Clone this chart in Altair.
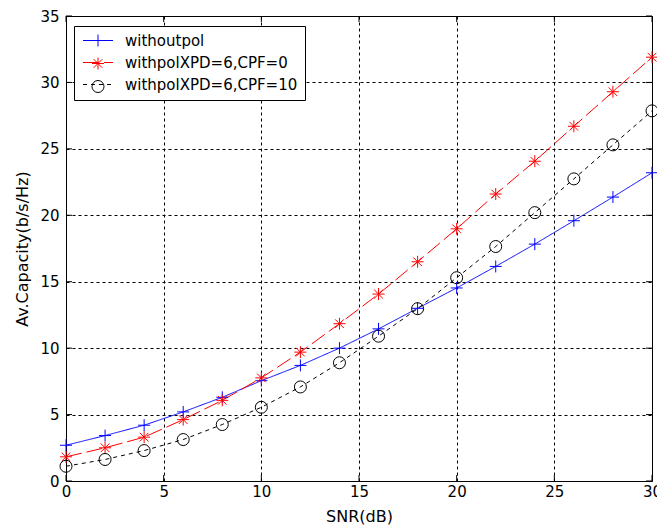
import altair as alt
import pandas as pd

# ---- data ----
snr = [0, 2, 4, 6, 8, 10, 12, 14, 16, 18, 20, 22, 24, 26, 28, 30]
without_pol = [2.69, 3.42, 4.2, 5.2, 6.3, 7.55, 8.7, 10.0, 11.45, 13.0,
               14.53, 16.15, 17.83, 19.59, 21.37, 23.2]
with_pol_cpf0 = [1.82, 2.5, 3.3, 4.62, 6.07, 7.76, 9.7, 11.84, 14.07, 16.5,
                 18.98, 21.6, 24.07, 26.7, 29.3, 31.9]
with_pol_cpf10 = [1.11, 1.62, 2.29, 3.12, 4.25, 5.55, 7.08, 8.9, 10.9, 12.97,
                  15.3, 17.65, 20.2, 22.74, 25.3, 27.86]
series_names = ["withoutpol", "withpolXPD=6,CPF=0", "withpolXPD=6,CPF=10"]
x_ticks = [0, 5, 10, 15, 20, 25, 30]
y_ticks = [0, 5, 10, 15, 20, 25, 30, 35]

# ---- styles ----
colors = ["#0000ff", "#ff0000", "#000000"]
dashes = [[1, 0], [16, 5], [4, 4]]
plus_path = "M-1,0L1,0M0,-1L0,1"
star_path = "M-1,0L1,0M0,-1L0,1M-0.72,-0.72L0.72,0.72M-0.72,0.72L0.72,-0.72"
shapes = [plus_path, star_path, "circle"]
FONT = "DejaVu Sans"
W, H = 586, 465
TICK = 6

rows = []
for name, vals in zip(series_names, [without_pol, with_pol_cpf0, with_pol_cpf10]):
    for s, v in zip(snr, vals):
        rows.append({"snr": s, "cap": v, "series": name})
df = pd.DataFrame(rows)
xt = pd.DataFrame({"t": x_ticks})
yt = pd.DataFrame({"t": y_ticks})

xscale = alt.Scale(domain=[0, 30], nice=False, zero=False)
yscale = alt.Scale(domain=[0, 35], nice=False, zero=False)

xaxis = alt.Axis(values=x_ticks, title="SNR(dB)", grid=True, ticks=False, tickSize=0,
                 labelFlush=False, labelOverlap=False, labelBound=False,
                 labelPadding=3, titlePadding=9)
yaxis = alt.Axis(values=y_ticks, title="Av.Capacity(b/s/Hz)", grid=True, ticks=False,
                 tickSize=0, labelFlush=False, labelOverlap=False, labelBound=False,
                 labelPadding=7, titlePadding=9)

leg_lines = alt.Legend(orient="none", legendX=8, legendY=10, title=None,
                       padding=7, rowPadding=6, symbolType="M-3,0L3,0",
                       symbolSize=100, symbolStrokeWidth=1, symbolOffset=9.5,
                       labelOffset=19.5, labelLimit=400, labelFont=FONT,
                       labelFontSize=15, labelColor="black", fillColor="white",
                       strokeColor="black", cornerRadius=0,
                       labelExpr="datum.label + '\u00a0\u00a0\u00a0'")
leg_marks = alt.Legend(orient="none", legendX=17.5, legendY=10, title=None,
                       padding=7, rowPadding=6, symbolSize=144,
                       symbolStrokeWidth=1, symbolOffset=0,
                       labelFont=FONT, labelFontSize=15, labelExpr="''")

lines = alt.Chart(df).mark_line(strokeWidth=1).encode(
    x=alt.X("snr:Q", scale=xscale, axis=xaxis),
    y=alt.Y("cap:Q", scale=yscale, axis=yaxis),
    color=alt.Color("series:N", scale=alt.Scale(domain=series_names, range=colors),
                    legend=leg_lines),
    strokeDash=alt.StrokeDash("series:N",
                              scale=alt.Scale(domain=series_names, range=dashes),
                              legend=leg_lines),
)

points = alt.Chart(df).mark_point(filled=False, size=144, strokeWidth=1, opacity=1).encode(
    x=alt.X("snr:Q", scale=xscale, axis=xaxis),
    y=alt.Y("cap:Q", scale=yscale, axis=yaxis),
    color=alt.Color("series:N", scale=alt.Scale(domain=series_names, range=colors),
                    legend=leg_marks),
    shape=alt.Shape("series:N", scale=alt.Scale(domain=series_names, range=shapes),
                    legend=leg_marks),
)

tick_bottom = alt.Chart(xt).mark_rule(color="black", strokeWidth=1).encode(
    x=alt.X("t:Q", scale=xscale, axis=xaxis), y=alt.value(H), y2=alt.value(H - TICK))
tick_top = alt.Chart(xt).mark_rule(color="black", strokeWidth=1).encode(
    x=alt.X("t:Q", scale=xscale, axis=xaxis), y=alt.value(0), y2=alt.value(TICK))
tick_left = alt.Chart(yt).mark_rule(color="black", strokeWidth=1).encode(
    y=alt.Y("t:Q", scale=yscale, axis=yaxis), x=alt.value(0), x2=alt.value(TICK))
tick_right = alt.Chart(yt).mark_rule(color="black", strokeWidth=1).encode(
    y=alt.Y("t:Q", scale=yscale, axis=yaxis), x=alt.value(W), x2=alt.value(W - TICK))

chart = alt.layer(
    lines, points, tick_bottom, tick_top, tick_left, tick_right
).resolve_scale(
    color="independent", strokeDash="independent", shape="independent"
).properties(
    width=W, height=H,
    autosize=alt.AutoSizeParams(type="none"),
    padding={"left": 66, "top": 16, "right": 5, "bottom": 49},
    background="white",
).configure_view(
    stroke="black", strokeWidth=1
).configure_axis(
    domainColor="black", domainWidth=1,
    gridColor="black", gridDash=[3, 3], gridWidth=1, gridOpacity=1,
    labelFont=FONT, labelFontSize=15, labelColor="black",
    titleFont=FONT, titleFontSize=16, titleFontWeight="normal", titleColor="black",
)

chart.save("out.html", embed_options={"renderer": "svg", "actions": False})
